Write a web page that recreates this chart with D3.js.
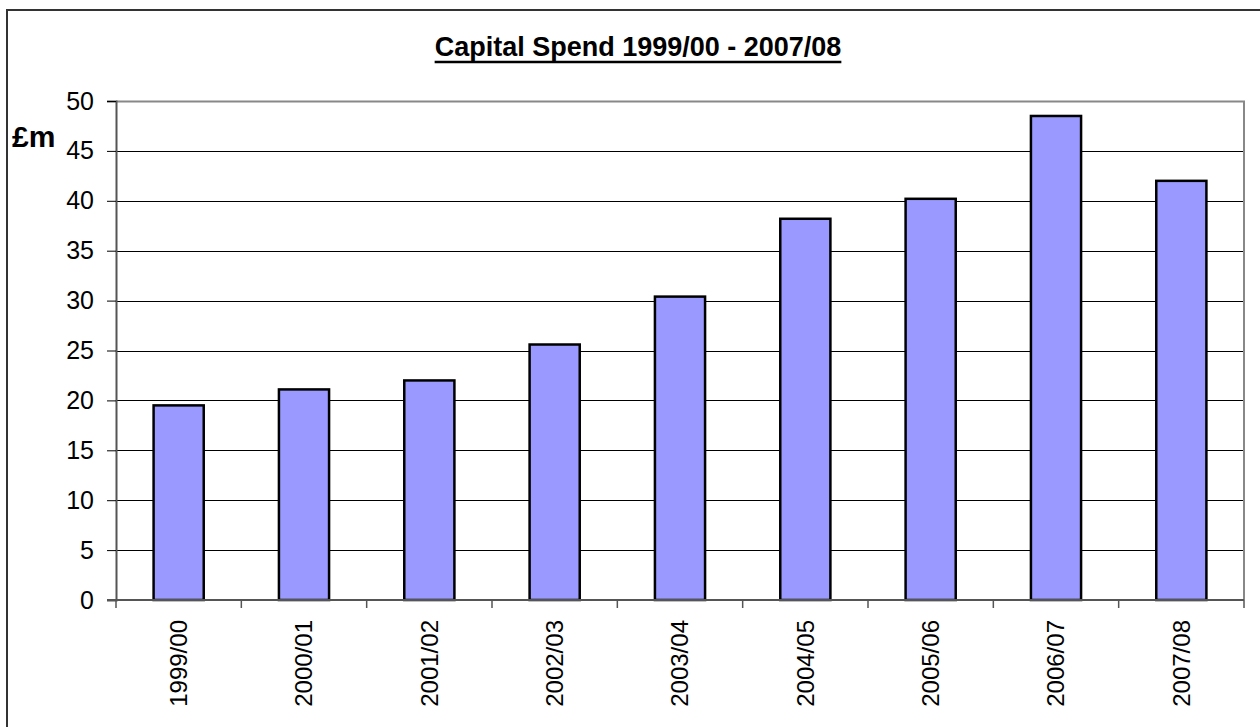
<!DOCTYPE html>
<html>
<head>
<meta charset="utf-8">
<script src="https://cdn.jsdelivr.net/npm/d3@7"></script>
<style>
  html, body { margin: 0; padding: 0; background: #fff; }
  svg { display: block; font-family: "Liberation Sans", Arial, sans-serif; }
</style>
</head>
<body>
<svg id="chart" width="1260" height="727"></svg>
<script>
// Capital spend per financial year, £m
const years = ["1999/00", "2000/01", "2001/02", "2002/03", "2003/04", "2004/05", "2005/06", "2006/07", "2007/08"];
const spend = [19.5, 21.1, 22.0, 25.6, 30.4, 38.2, 40.2, 48.5, 42.0];
const yTicks = [0, 5, 10, 15, 20, 25, 30, 35, 40, 45, 50];

const svg = d3.select("#chart");
const plot = { left: 116, right: 1244, top: 101, bottom: 600 };

const x = d3.scaleBand().domain(years).range([plot.left, plot.right]).paddingInner(0.6).paddingOuter(0.3);
const xEdges = d3.scaleLinear().domain([0, years.length]).range([plot.left, plot.right]);
const y = d3.scaleLinear().domain([0, 50]).range([plot.bottom, plot.top]);

// outer frame
svg.append("rect")
  .attr("x", 7).attr("y", 10).attr("width", 1300).attr("height", 800)
  .attr("fill", "none").attr("stroke", "#333").attr("stroke-width", 2);

// title with a solid underline
const title = svg.append("text")
  .attr("x", 638).attr("y", 56)
  .attr("text-anchor", "middle")
  .attr("font-size", 27).attr("font-weight", "bold")
  .text("Capital Spend 1999/00 - 2007/08");
const tb = title.node().getBBox();
svg.append("line")
  .attr("x1", tb.x).attr("x2", tb.x + tb.width)
  .attr("y1", 62).attr("y2", 62)
  .attr("stroke", "#000").attr("stroke-width", 2.5);

// horizontal gridlines
svg.append("g").selectAll("line")
  .data(yTicks.filter(d => d > 0 && d < 50))
  .join("line")
  .attr("x1", plot.left).attr("x2", plot.right)
  .attr("y1", d => Math.round(y(d)) + 0.5).attr("y2", d => Math.round(y(d)) + 0.5)
  .attr("stroke", "#000").attr("stroke-width", 1);

// plot frame top and right
svg.append("path")
  .attr("d", `M${plot.left},${plot.top + 0.5}H${plot.right}V${plot.bottom}`)
  .attr("fill", "none").attr("stroke", "#888").attr("stroke-width", 2);

// y axis
const yAxis = d3.axisLeft(y).tickValues(yTicks).tickSize(9).tickPadding(13);
const gy = svg.append("g")
  .attr("transform", `translate(${plot.left},0)`)
  .call(yAxis);
gy.select(".domain").attr("stroke", "#555").attr("stroke-width", 2);
gy.selectAll(".tick line").attr("stroke", "#000");
gy.selectAll(".tick text").attr("font-size", 25).attr("fill", "#000")
  .attr("font-family", "Liberation Sans, Arial, sans-serif");

// bars
svg.append("g").selectAll("rect")
  .data(years.map((yr, i) => ({ yr, v: spend[i] })))
  .join("rect")
  .attr("x", d => x(d.yr))
  .attr("y", d => y(d.v))
  .attr("width", x.bandwidth())
  .attr("height", d => y(0) - y(d.v))
  .attr("fill", "#9999FF")
  .attr("stroke", "#000").attr("stroke-width", 2.5);

// x axis line and category boundary ticks
svg.append("line")
  .attr("x1", plot.left - 9).attr("x2", plot.right)
  .attr("y1", plot.bottom).attr("y2", plot.bottom)
  .attr("stroke", "#555").attr("stroke-width", 2);
svg.append("g").selectAll("line")
  .data(d3.range(years.length + 1))
  .join("line")
  .attr("x1", d => xEdges(d)).attr("x2", d => xEdges(d))
  .attr("y1", plot.bottom).attr("y2", plot.bottom + 8)
  .attr("stroke", "#555").attr("stroke-width", 1.5);

// rotated category labels
svg.append("g").selectAll("text")
  .data(years)
  .join("text")
  .attr("transform", d => `translate(${x(d) + x.bandwidth() / 2},620) rotate(-90)`)
  .attr("text-anchor", "end")
  .attr("dy", "0.35em")
  .attr("font-size", 24)
  .text(d => d);

// unit label
svg.append("text")
  .attr("x", 12).attr("y", 147)
  .attr("font-size", 30).attr("font-weight", "bold")
  .text("£m");
</script>
</body>
</html>
